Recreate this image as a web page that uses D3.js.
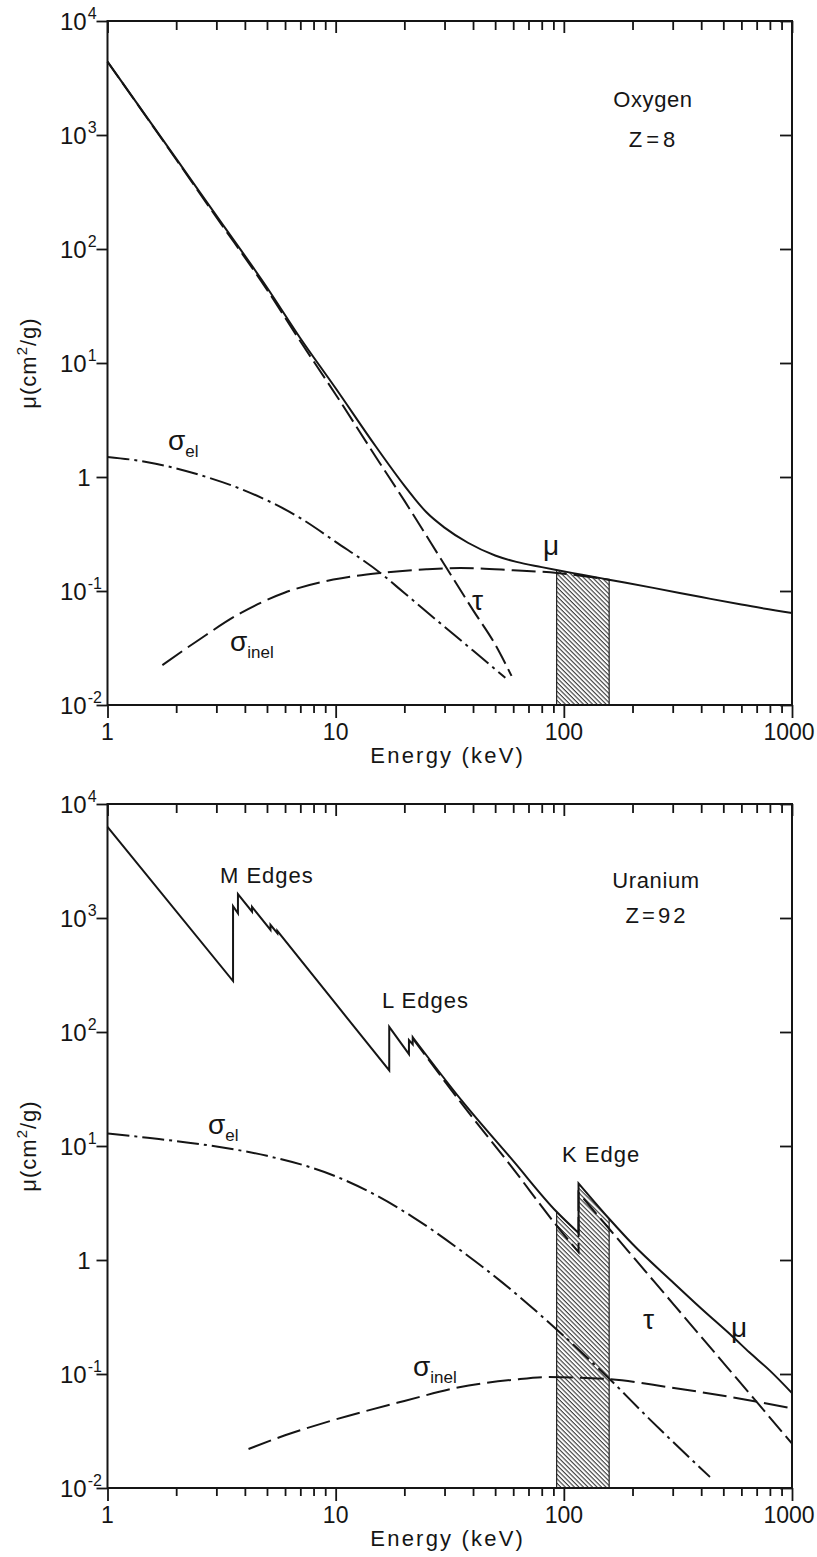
<!DOCTYPE html>
<html>
<head>
<meta charset="utf-8">
<script src="https://cdn.jsdelivr.net/npm/d3@7"></script>
<style>
  body { margin: 0; background: #fff; }
  svg text { font-family: "Liberation Sans Narrow", "Liberation Sans", sans-serif; fill: #151515; }
</style>
</head>
<body>
<svg width="817" height="1557"></svg>
<script>
// axis ticks
var majorE = [1, 10, 100, 1000];
var minorE = [2, 3, 4, 5, 6, 7, 8, 9, 20, 30, 40, 50, 60, 70, 80, 90, 200, 300, 400, 500, 600, 700, 800, 900];
var xTickLabels = ["1", "10", "100", "1000"];
var decades = [1e-2, 1e-1, 1, 1e1, 1e2, 1e3, 1e4];
var yTickLabels = [["10", "-2"], ["10", "-1"], ["1", ""], ["10", "1"], ["10", "2"], ["10", "3"], ["10", "4"]];

// Oxygen, Z = 8   [energy keV, cm2/g]
var oxyMu = [[1, 4400], [2, 620], [3, 196], [5, 46], [7, 16.5], [10, 6.0], [15, 1.85], [20, 0.84], [22, 0.66],
  [25, 0.49], [30, 0.36], [38, 0.265], [50, 0.205], [62, 0.18], [80, 0.162], [94, 0.152], [120, 0.139],
  [160, 0.125], [250, 0.106], [400, 0.0885], [600, 0.076], [1000, 0.064]];
var oxyTau = [[1, 4400], [2, 610], [3, 190], [5, 44], [7, 15.5], [10, 5.3], [15, 1.5], [20, 0.62], [30, 0.17],
  [40, 0.068], [50, 0.034], [59, 0.018]];
var oxyEl = [[1, 1.5], [1.5, 1.35], [2.55, 1.04], [4, 0.76], [7, 0.436], [10, 0.27], [15.7, 0.144], [20, 0.096],
  [26.8, 0.0586], [40, 0.030], [55.4, 0.0173]];
var oxyInel = [[1.74, 0.0224], [2.5, 0.037], [3.83, 0.064], [6, 0.097], [9.77, 0.126], [15.7, 0.144], [25, 0.155],
  [35.2, 0.159], [60, 0.152], [93.5, 0.144], [160, 0.125]];

// Uranium, Z = 92  (a repeated energy is an absorption edge)
var uMu = [[1, 6300], [3.55, 280], [3.55, 1270], [3.73, 1100], [3.73, 1620], [4.3, 1135], [4.3, 1250],
  [5.18, 785], [5.18, 870], [5.55, 735], [5.55, 770], [10, 177], [17.17, 46], [17.17, 111], [20.95, 64],
  [20.95, 85], [21.76, 78], [21.76, 90], [35.7, 25], [60, 7.4], [93, 2.65], [116, 1.73], [116, 4.7],
  [158, 2.3], [200, 1.38], [300, 0.64], [400, 0.375], [550, 0.212], [650, 0.155], [800, 0.107], [1000, 0.068]];
var uTau = [[21.76, 88], [35.7, 23.5], [60, 6.3], [93, 2.0], [116, 1.17], [116, 3.9], [158, 1.88], [200, 1.08],
  [300, 0.417], [400, 0.212], [519, 0.115], [675, 0.062], [1000, 0.0245]];
var uEl = [[1, 12.9], [1.5, 11.8], [2.8, 10.1], [5, 8.2], [9.6, 5.6], [15, 3.7], [21.8, 2.38], [35, 1.23],
  [53.5, 0.64], [93, 0.246], [159, 0.09], [238, 0.04], [437, 0.0125]];
var uInel = [[4.15, 0.022], [6, 0.029], [9.6, 0.039], [20, 0.058], [34.3, 0.076], [60, 0.089], [84, 0.094],
  [159, 0.09], [283, 0.077], [675, 0.058], [1000, 0.05]];

var bandE = [93, 158];   // hatched energy window

var X0 = 107.5, X1 = 792, H = 684;

var svg = d3.select("svg");
var defs = svg.append("defs");
defs.append("pattern")
    .attr("id", "hatch")
    .attr("patternUnits", "userSpaceOnUse")
    .attr("width", 3.2).attr("height", 8)
    .attr("patternTransform", "rotate(-45)")
  .append("line")
    .attr("x1", 1).attr("y1", 0).attr("x2", 1).attr("y2", 8)
    .attr("stroke", "#222").attr("stroke-width", 1);

// split at repeated energies so the edges stay vertical
function segments(data) {
  var segs = [[data[0]]];
  for (var i = 1; i < data.length; i++) {
    if (data[i][0] === data[i - 1][0]) segs.push([]);
    segs[segs.length - 1].push(data[i]);
  }
  return segs;
}

function pathOf(data, x, y) {
  var line = d3.line().x(d => x(d[0])).y(d => y(d[1])).curve(d3.curveMonotoneX);
  return segments(data).map((s, i) => { var p = line(s); return i ? "L" + p.slice(1) : p; }).join("");
}

function panel(id, top, p) {
  var x = d3.scaleLog().domain([1, 1000]).range([X0, X1]);
  var y = d3.scaleLog().domain([1e-2, 1e4]).range([top + H, top]);
  var g = svg.append("g");

  // hatched window under mu
  defs.append("clipPath").attr("id", "under-" + id)
    .append("path")
      .attr("d", pathOf(p.mu, x, y) + "L" + X1 + "," + (top + H) + "L" + X0 + "," + (top + H) + "Z");
  g.append("rect")
      .attr("x", x(bandE[0])).attr("y", top)
      .attr("width", x(bandE[1]) - x(bandE[0])).attr("height", H)
      .attr("fill", "url(#hatch)")
      .attr("stroke", "#222").attr("stroke-width", 1.2)
      .attr("clip-path", "url(#under-" + id + ")");

  // axes
  function ticks(axis, tx, ty, vals, size) {
    g.append("g").attr("transform", "translate(" + tx + "," + ty + ")")
      .call(axis.tickValues(vals).tickSize(size).tickFormat(""))
      .call(a => a.select(".domain").remove())
      .call(a => a.selectAll("line").attr("stroke", "#151515").attr("stroke-width", 1.8));
  }
  ticks(d3.axisBottom(x), 0, top + H, minorE, 8);
  ticks(d3.axisBottom(x), 0, top + H, majorE, 13);
  ticks(d3.axisBottom(x), 0, top, minorE, 9);
  ticks(d3.axisBottom(x), 0, top, majorE, 12);
  ticks(d3.axisLeft(y), X0, 0, decades, 11);
  ticks(d3.axisLeft(y), X1, 0, decades, 12);

  g.append("rect")
      .attr("x", X0).attr("y", top).attr("width", X1 - X0).attr("height", H)
      .attr("fill", "none").attr("stroke", "#151515").attr("stroke-width", 2);

  g.selectAll(".xl").data(majorE).enter().append("text")
      .attr("x", d => x(d) - (d === 1000 ? 3 : 0)).attr("y", top + H + 35)
      .attr("text-anchor", "middle").attr("font-size", 23)
      .text((d, i) => xTickLabels[i]);

  decades.forEach(function (d, i) {
    var lab = yTickLabels[i];
    var t = g.append("text").attr("font-size", 24).attr("y", y(d) + 9);
    if (lab[1] === "") {
      t.attr("x", X0 - 17).attr("text-anchor", "end").text(lab[0]);
    } else {
      t.attr("x", 60).text(lab[0]);
      t.append("tspan").attr("font-size", 16).attr("dx", 1).attr("dy", -11).text(lab[1]);
    }
  });

  g.append("text")
      .attr("x", (X0 + X1) / 2 - 2).attr("y", top + H + 58)
      .attr("text-anchor", "middle").attr("font-size", 22).attr("letter-spacing", 2.2)
      .text("Energy (keV)");

  var yl = g.append("text")
      .attr("transform", "translate(36," + (top + H / 2) + ") rotate(-90)")
      .attr("text-anchor", "middle").attr("font-size", 22).attr("letter-spacing", 1);
  yl.append("tspan").text("μ(cm");
  yl.append("tspan").attr("font-size", 15).attr("dy", -9).text("2");
  yl.append("tspan").attr("dy", 9).text("/g)");

  // curves
  var curves = [
    { data: p.el, dash: "22,5,3,5" },
    { data: p.inel, dash: "24,7" },
    { data: p.tau, dash: "20,6" },
    { data: p.mu, dash: null }
  ];
  curves.forEach(function (c) {
    g.append("path")
        .attr("d", pathOf(c.data, x, y))
        .attr("fill", "none").attr("stroke", "#151515").attr("stroke-width", 2)
        .attr("stroke-dasharray", c.dash);
  });

  // labels
  p.labels.forEach(function (l) {
    var t = g.append("text").attr("x", l.x).attr("y", top + l.y)
        .attr("font-size", l.size || 22).attr("letter-spacing", l.ls || 0).text(l.text);
    if (l.sub) t.append("tspan").attr("font-size", 17).attr("dy", 7).attr("letter-spacing", 0).text(l.sub);
    if (l.anchor) t.attr("text-anchor", l.anchor);
  });
}

panel("oxy", 21, {
  mu: oxyMu, tau: oxyTau, el: oxyEl, inel: oxyInel,
  labels: [
    { text: "Oxygen", x: 653, y: 86, anchor: "middle", ls: 0.6 },
    { text: "Z=8", x: 654, y: 126, anchor: "middle", ls: 4 },
    { text: "σ", sub: "el", x: 168, y: 429, size: 28 },
    { text: "σ", sub: "inel", x: 230, y: 630, size: 28 },
    { text: "τ", x: 472, y: 589, size: 28 },
    { text: "μ", x: 543, y: 534, size: 28 }
  ]
});

panel("u", 804, {
  mu: uMu, tau: uTau, el: uEl, inel: uInel,
  labels: [
    { text: "M Edges", x: 220, y: 79, ls: 1 },
    { text: "Uranium", x: 656, y: 84, anchor: "middle", ls: 0.6 },
    { text: "Z=92", x: 657, y: 119, anchor: "middle", ls: 3 },
    { text: "L Edges", x: 382, y: 204, ls: 1 },
    { text: "K Edge", x: 562, y: 358, ls: 1 },
    { text: "σ", sub: "el", x: 208, y: 330, size: 28 },
    { text: "σ", sub: "inel", x: 413, y: 572, size: 28 },
    { text: "τ", x: 643, y: 525, size: 28 },
    { text: "μ", x: 731, y: 533, size: 28 }
  ]
});
</script>
</body>
</html>
